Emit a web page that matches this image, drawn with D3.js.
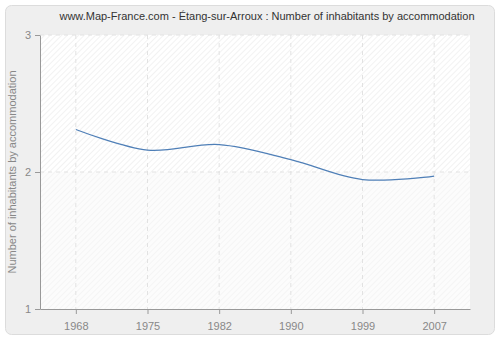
<!DOCTYPE html>
<html>
<head>
<meta charset="utf-8">
<script src="https://cdn.jsdelivr.net/npm/d3@7"></script>
<style>
  body { margin: 0; background: #fff; }
  svg { display: block; font-family: "Liberation Sans", Arial, sans-serif; }
</style>
</head>
<body>
<div id="chart"></div>
<script>
const years = ["1968", "1975", "1982", "1990", "1999", "2007"];
const inhabitants = [2.31, 2.16, 2.2, 2.09, 1.945, 1.97];
const yTicks = [1, 2, 3];
const title = "www.Map-France.com - Étang-sur-Arroux : Number of inhabitants by accommodation";
const yLabel = "Number of inhabitants by accommodation";

const width = 500, height = 340;
const margin = { top: 35, right: 30, bottom: 31, left: 40 };
const font = "Liberation Sans, Arial, sans-serif";

const svg = d3.select("#chart").append("svg")
    .attr("width", width)
    .attr("height", height);

// hatch patterns for the plot background
const defs = svg.append("defs");
function hatch(id, bg, fg) {
    let p = defs.append("pattern")
        .attr("id", id)
        .attr("patternUnits", "userSpaceOnUse")
        .attr("width", 4)
        .attr("height", 4)
        .attr("patternTransform", "rotate(45)");
    p.append("rect").attr("width", 4).attr("height", 4).attr("fill", bg);
    p.append("line").attr("x1", 0).attr("y1", 0).attr("x2", 0).attr("y2", 4)
        .attr("stroke", fg).attr("stroke-width", 1.5);
}
hatch("hatchTop", "#ffffff", "#eeeeee");
hatch("hatchBottom", "#fcfcfc", "#f3f3f3");

// outer panel
svg.append("rect")
    .attr("x", 5.5).attr("y", 5.5)
    .attr("width", 489).attr("height", 329)
    .attr("rx", 6)
    .attr("fill", "#efefef")
    .attr("stroke", "#dcdcdc");

const x = d3.scalePoint()
    .domain(years)
    .range([margin.left, width - margin.right])
    .padding(0.5);

const y = d3.scaleLinear()
    .domain([1, 3])
    .range([height - margin.bottom, margin.top]);

const plotW = width - margin.left - margin.right;

svg.append("rect")
    .attr("x", margin.left).attr("y", y(3))
    .attr("width", plotW).attr("height", y(2) - y(3))
    .attr("fill", "url(#hatchTop)");
svg.append("rect")
    .attr("x", margin.left).attr("y", y(2))
    .attr("width", plotW).attr("height", y(1) - y(2))
    .attr("fill", "url(#hatchBottom)");

// grid
svg.append("g")
    .selectAll("line")
    .data(years)
    .join("line")
    .attr("x1", d => x(d)).attr("x2", d => x(d))
    .attr("y1", y(3)).attr("y2", y(1))
    .attr("stroke", "#e2e2e2")
    .attr("stroke-dasharray", "4,4");
svg.append("g")
    .selectAll("line")
    .data(yTicks.slice(1))
    .join("line")
    .attr("x1", margin.left).attr("x2", width - margin.right)
    .attr("y1", d => y(d)).attr("y2", d => y(d))
    .attr("stroke", "#e2e2e2")
    .attr("stroke-dasharray", "4,4");

// axes
const xAxis = svg.append("g")
    .attr("transform", "translate(0," + y(1) + ")")
    .call(d3.axisBottom(x).tickSize(5).tickSizeOuter(0));
const yAxis = svg.append("g")
    .attr("transform", "translate(" + margin.left + ",0)")
    .call(d3.axisLeft(y).tickValues(yTicks).tickFormat(d3.format("d")).tickSize(5).tickSizeOuter(0));

[xAxis, yAxis].forEach(a => {
    a.select(".domain").attr("stroke", "#999");
    a.selectAll(".tick line").attr("stroke", "#999");
    a.selectAll(".tick text")
        .attr("fill", "#888")
        .style("font-size", "11px")
        .style("font-family", font);
});
xAxis.selectAll(".tick text").attr("dy", "1.15em");
yAxis.selectAll(".tick text").attr("dx", "-1px");

// line
svg.append("path")
    .datum(inhabitants)
    .attr("fill", "none")
    .attr("stroke", "#4f7fb7")
    .attr("stroke-width", 1.2)
    .attr("d", d3.line()
        .x((d, i) => x(years[i]))
        .y(d => y(d))
        .curve(d3.curveCatmullRom));

// title and y label
svg.append("text")
    .attr("x", 267).attr("y", 20)
    .attr("text-anchor", "middle")
    .attr("fill", "#333")
    .style("font-size", "11px")
    .text(title);

svg.append("text")
    .attr("transform", "translate(16," + y(2) + ") rotate(-90)")
    .attr("text-anchor", "middle")
    .attr("fill", "#888")
    .style("font-size", "11px")
    .text(yLabel);
</script>
</body>
</html>
